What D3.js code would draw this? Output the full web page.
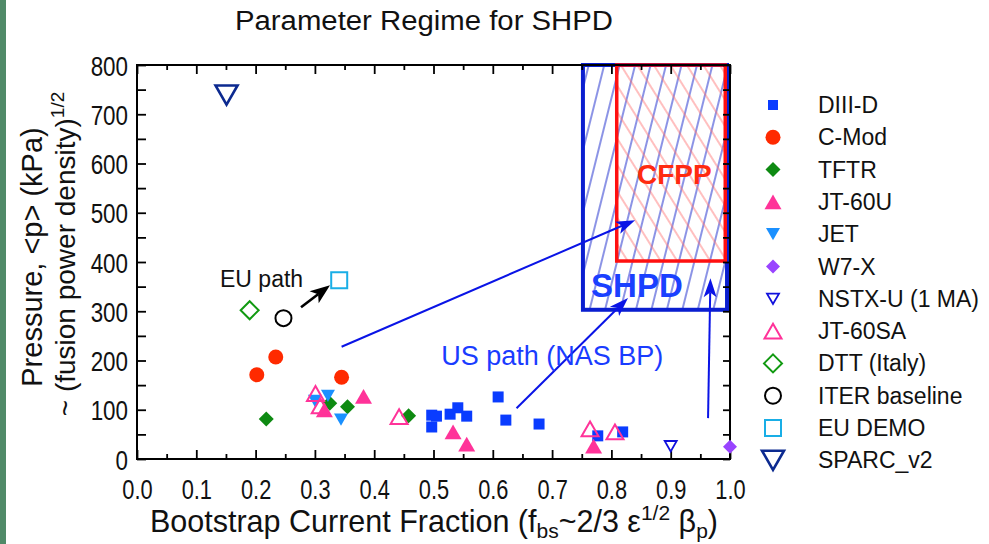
<!DOCTYPE html>
<html><head><meta charset="utf-8">
<script src="https://cdn.jsdelivr.net/npm/d3@7"></script>
<style>
body{margin:0;background:#fff}
svg{display:block}
text{font-family:"Liberation Sans",Arial,Helvetica,sans-serif}
</style>
</head><body>
<svg id="c" width="989" height="544"></svg>
<script>
// ---------------- data ----------------
const seriesNames = ["DIII-D","C-Mod","TFTR","JT-60U","JET","W7-X","NSTX-U (1 MA)","JT-60SA","DTT (Italy)","ITER baseline","EU DEMO","SPARC_v2"];
const diiidX = [0.497,0.505,0.497,0.528,0.541,0.556,0.609,0.622,0.678,0.777,0.819];
const diiidY = [89,87,65,91,104,87,126,79,71,47,55];
const cmodX = [0.202,0.234,0.345];
const cmodY = [171,207,166];
const tftrX = [0.218,0.325,0.355,0.458];
const tftrY = [81,113,106,88];
const jt60uX = [0.316,0.382,0.533,0.556,0.770];
const jt60uY = [100,127,55,30,26];
const jetX = [0.300,0.322,0.344];
const jetY = [118,128,80];
const w7xX = [1.0];
const w7xY = [25];
const nstxX = [0.90];
const nstxY = [26];
const jt60saX = [0.301,0.309,0.442,0.764,0.806];
const jt60saY = [133,108,86,61,55];
const dttX = [0.190];
const dttY = [302];
const iterX = [0.247];
const iterY = [286];
const demoX = [0.341];
const demoY = [363];
const sparcX = [0.151];
const sparcY = [739];

const xTicks = [0,0.1,0.2,0.3,0.4,0.5,0.6,0.7,0.8,0.9,1.0];
const yTicks = [0,100,200,300,400,500,600,700,800];

// regions (x0,x1,y0,y1 in data units)
const regionNames = ["SHPD","CFPP"];
const regionX0 = [0.752,0.809];
const regionX1 = [0.995,0.992];
const regionY0 = [303,402];
const regionY1 = [800,800];

// arrows: start/end in data units
const blueArrowX0 = [0.345,0.640,0.963];
const blueArrowY0 = [228,103,83];
const blueArrowX1 = [0.840,0.828,0.967];
const blueArrowY1 = [485,327,367];
const euArrowX = [0.2766,0.3255];
const euArrowY = [308,353];

// ---------------- styles ----------------
const styles = {
  "DIII-D":        {shape:"square",  size:11, fill:"#0a3cff", stroke:"none", sw:0},
  "C-Mod":         {shape:"circle",  size:15, fill:"#ff2a00", stroke:"none", sw:0},
  "TFTR":          {shape:"diamond", size:15, fill:"#0e8a12", stroke:"none", sw:0},
  "JT-60U":        {shape:"triUp",   size:17, fill:"#ff3399", stroke:"none", sw:0},
  "JET":           {shape:"triDown", size:14, fill:"#1a90ff", stroke:"none", sw:0},
  "W7-X":          {shape:"diamond", size:14, fill:"#9944ff", stroke:"none", sw:0},
  "NSTX-U (1 MA)": {shape:"triDown", size:12, fill:"none", stroke:"#1010dd", sw:1.8},
  "JT-60SA":       {shape:"triUp",   size:17, fill:"none", stroke:"#ff3399", sw:2},
  "DTT (Italy)":   {shape:"diamond", size:18, fill:"none", stroke:"#119a11", sw:2},
  "ITER baseline": {shape:"circle",  size:16, fill:"none", stroke:"#000000", sw:2},
  "EU DEMO":       {shape:"square",  size:16, fill:"none", stroke:"#19aee6", sw:2},
  "SPARC_v2":      {shape:"triDown", size:22, fill:"none", stroke:"#0c2a90", sw:2.6}
};
const seriesX = [diiidX,cmodX,tftrX,jt60uX,jetX,w7xX,nstxX,jt60saX,dttX,iterX,demoX,sparcX];
const seriesY = [diiidY,cmodY,tftrY,jt60uY,jetY,w7xY,nstxY,jt60saY,dttY,iterY,demoY,sparcY];

function shapePath(shape, s){
  const h = s/2;
  switch(shape){
    case "square": return `M${-h},${-h}H${h}V${h}H${-h}Z`;
    case "circle": return `M${h},0A${h},${h} 0 1,1 ${-h},0A${h},${h} 0 1,1 ${h},0Z`;
    case "diamond": return `M0,${-h}L${h},0L0,${h}L${-h},0Z`;
    case "triUp": { const t = s*0.87/2; return `M0,${-t}L${h},${t}L${-h},${t}Z`; }
    case "triDown": { const t = s*0.87/2; return `M${-h},${-t}L${h},${-t}L0,${t}Z`; }
  }
}

// ---------------- chart ----------------
const svg = d3.select("#c");
const x = d3.scaleLinear().domain([0,1]).range([137,730]);
const y = d3.scaleLinear().domain([0,800]).range([459,65]);

// left green strip
svg.append("rect").attr("x",0).attr("y",0).attr("width",6).attr("height",544).attr("fill","#508a68");

// patterns
const defs = svg.append("defs");
const pb = defs.append("pattern").attr("id","hb").attr("patternUnits","userSpaceOnUse")
  .attr("width",15).attr("height",20).attr("patternTransform","rotate(14)");
pb.append("line").attr("x1",2).attr("y1",-5).attr("x2",2).attr("y2",25).attr("stroke","#1828cc").attr("stroke-width",1);
const pr = defs.append("pattern").attr("id","hr").attr("patternUnits","userSpaceOnUse")
  .attr("width",14).attr("height",20).attr("patternTransform","rotate(-32)");
pr.append("line").attr("x1",2).attr("y1",-5).attr("x2",2).attr("y2",25).attr("stroke","#ff7070").attr("stroke-width",0.9);

// title
svg.append("text").attr("x",424).attr("y",30).attr("text-anchor","middle")
  .attr("font-size",27).attr("textLength",378).attr("lengthAdjust","spacingAndGlyphs")
  .attr("fill","#111").text("Parameter Regime for SHPD");

// regions
const rg = svg.append("g");
regionNames.forEach((n,i)=>{
  const rx = x(regionX0[i]), ry = y(regionY1[i]);
  const rw = x(regionX1[i]) - rx, rh = y(regionY0[i]) - ry;
  rg.append("rect").attr("x",rx).attr("y",ry).attr("width",rw).attr("height",rh)
    .attr("fill", n==="SHPD" ? "url(#hb)" : "url(#hr)");
});
regionNames.forEach((n,i)=>{
  const rx = x(regionX0[i]), ry = y(regionY1[i]);
  const rw = x(regionX1[i]) - rx, rh = y(regionY0[i]) - ry;
  rg.append("rect").attr("x",rx).attr("y",ry).attr("width",rw).attr("height",rh)
    .attr("fill","none").attr("stroke", n==="SHPD" ? "#0a1ed0" : "#ff1010")
    .attr("stroke-width", n==="SHPD" ? 4 : 3.5);
});
svg.append("text").attr("x",x(0.843)).attr("y",y(353)).attr("text-anchor","middle").attr("dominant-baseline","central")
  .attr("font-size",33).attr("font-weight","bold").attr("fill","#1a40ff").text("SHPD");
svg.append("text").attr("x",x(0.906)).attr("y",y(577)).attr("text-anchor","middle").attr("dominant-baseline","central")
  .attr("font-size",28).attr("font-weight","bold").attr("fill","#ff2a10").text("CFPP");

// axes
const ag = svg.append("g");
const xMinor = d3.range(0.05,1,0.1);
const yMinor = d3.range(50,800,100);
// bottom
const gxb = ag.append("g").attr("transform",`translate(0,459)`)
  .call(d3.axisBottom(x).tickValues(xTicks).tickSize(-9).tickPadding(20).tickFormat(d3.format(".1f")));
ag.append("g").attr("transform",`translate(0,459)`).call(d3.axisBottom(x).tickValues(xMinor).tickSize(-5).tickFormat(""));
// top
ag.append("g").attr("transform",`translate(0,65)`).call(d3.axisTop(x).tickValues(xTicks).tickSize(-9).tickFormat(""));
ag.append("g").attr("transform",`translate(0,65)`).call(d3.axisTop(x).tickValues(xMinor).tickSize(-5).tickFormat(""));
// left
const gyl = ag.append("g").attr("transform",`translate(137,0)`)
  .call(d3.axisLeft(y).tickValues(yTicks).tickSize(-9).tickPadding(9).tickFormat(d3.format("d")));
ag.append("g").attr("transform",`translate(137,0)`).call(d3.axisLeft(y).tickValues(yMinor).tickSize(-9).tickFormat(""));
// right
ag.append("g").attr("transform",`translate(730,0)`).call(d3.axisRight(y).tickValues(yTicks).tickSize(-7).tickFormat(""));
ag.append("g").attr("transform",`translate(730,0)`).call(d3.axisRight(y).tickValues(yMinor).tickSize(-7).tickFormat(""));
ag.selectAll(".domain").remove();
ag.selectAll(".tick line").attr("stroke","#000").attr("stroke-width",1.8);
ag.selectAll(".tick text").attr("fill","#111").attr("font-family",'"Liberation Sans",Arial,sans-serif').attr("font-size",28);
gxb.selectAll(".tick text").attr("transform","scale(0.78,1)");
gyl.selectAll(".tick text").attr("transform","scale(0.8,1)").attr("x",-9/0.8).attr("dy","0.36em");
// frame
svg.append("rect").attr("x",137).attr("y",65).attr("width",593).attr("height",394)
  .attr("fill","none").attr("stroke","#000").attr("stroke-width",2);

// arrows
function arrow(g, x0,y0,x1,y1,color,lw,L,W){
  const dx=x1-x0, dy=y1-y0, len=Math.hypot(dx,dy), ux=dx/len, uy=dy/len, px=-uy, py=ux;
  const bx = x1-ux*L*0.75, by = y1-uy*L*0.75;
  g.append("line").attr("x1",x0).attr("y1",y0).attr("x2",bx).attr("y2",by).attr("stroke",color).attr("stroke-width",lw);
  const p = [[x1,y1],[x1-ux*L+px*W/2, y1-uy*L+py*W/2],[bx,by],[x1-ux*L-px*W/2, y1-uy*L-py*W/2]];
  g.append("path").attr("d","M"+p.map(q=>q.join(",")).join("L")+"Z").attr("fill",color);
}
const arr = svg.append("g");
blueArrowX0.forEach((d,i)=>arrow(arr,x(blueArrowX0[i]),y(blueArrowY0[i]),x(blueArrowX1[i]),y(blueArrowY1[i]),"#0a14e6",2,19,13));
arrow(arr,x(euArrowX[0]),y(euArrowY[0]),x(euArrowX[1]),y(euArrowY[1]),"#000",2.6,20,15);

// annotation texts
svg.append("text").attr("x",x(0.140)).attr("y",y(350)).attr("font-size",23).attr("fill","#111").text("EU path");
svg.append("text").attr("x",x(0.513)).attr("y",y(190)).attr("font-size",27).attr("fill","#1a3cff").text("US path (NAS BP)");

// markers
const mg = svg.append("g");
seriesNames.forEach((n,i)=>{
  const st = styles[n];
  mg.append("g").selectAll("path").data(d3.range(seriesX[i].length)).join("path")
    .attr("transform",j=>`translate(${x(seriesX[i][j])},${y(seriesY[i][j])})`)
    .attr("d",shapePath(st.shape,st.size))
    .attr("fill",st.fill).attr("stroke",st.stroke).attr("stroke-width",st.sw);
});

// legend
const lg = svg.append("g");
seriesNames.forEach((n,i)=>{
  const st = styles[n];
  const ly = 105 + i*32.3;
  lg.append("path").attr("transform",`translate(773,${ly})`).attr("d",shapePath(st.shape, n==="DIII-D"?10:st.size))
    .attr("fill",st.fill).attr("stroke",st.stroke).attr("stroke-width",st.sw);
  lg.append("text").attr("x",818).attr("y",ly).attr("dominant-baseline","central")
    .attr("font-size",23).attr("fill","#111").text(n);
});

// axis titles
const xt = svg.append("text").attr("x",434).attr("y",532).attr("text-anchor","middle").attr("font-size",30.5).attr("fill","#111");
xt.append("tspan").text("Bootstrap Current Fraction (f");
xt.append("tspan").attr("font-size",21).attr("dy",6).text("bs");
xt.append("tspan").attr("dy",-6).text("~2/3 ε");
xt.append("tspan").attr("font-size",21).attr("dy",-12).text("1/2");
xt.append("tspan").attr("dy",12).text(" β");
xt.append("tspan").attr("font-size",21).attr("dy",6).text("p");
xt.append("tspan").attr("dy",-6).text(")");

const yt1 = svg.append("text").attr("transform","translate(42,257) rotate(-90)").attr("text-anchor","middle")
  .attr("font-size",29).attr("fill","#111").text("Pressure, <p> (kPa)");
const yt2 = svg.append("text").attr("transform","translate(75,254) rotate(-90)").attr("text-anchor","middle")
  .attr("font-size",28).attr("fill","#111");
yt2.append("tspan").text("~ (fusion power density)");
yt2.append("tspan").attr("font-size",19).attr("dy",-11).text("1/2");
</script>
</body></html>
